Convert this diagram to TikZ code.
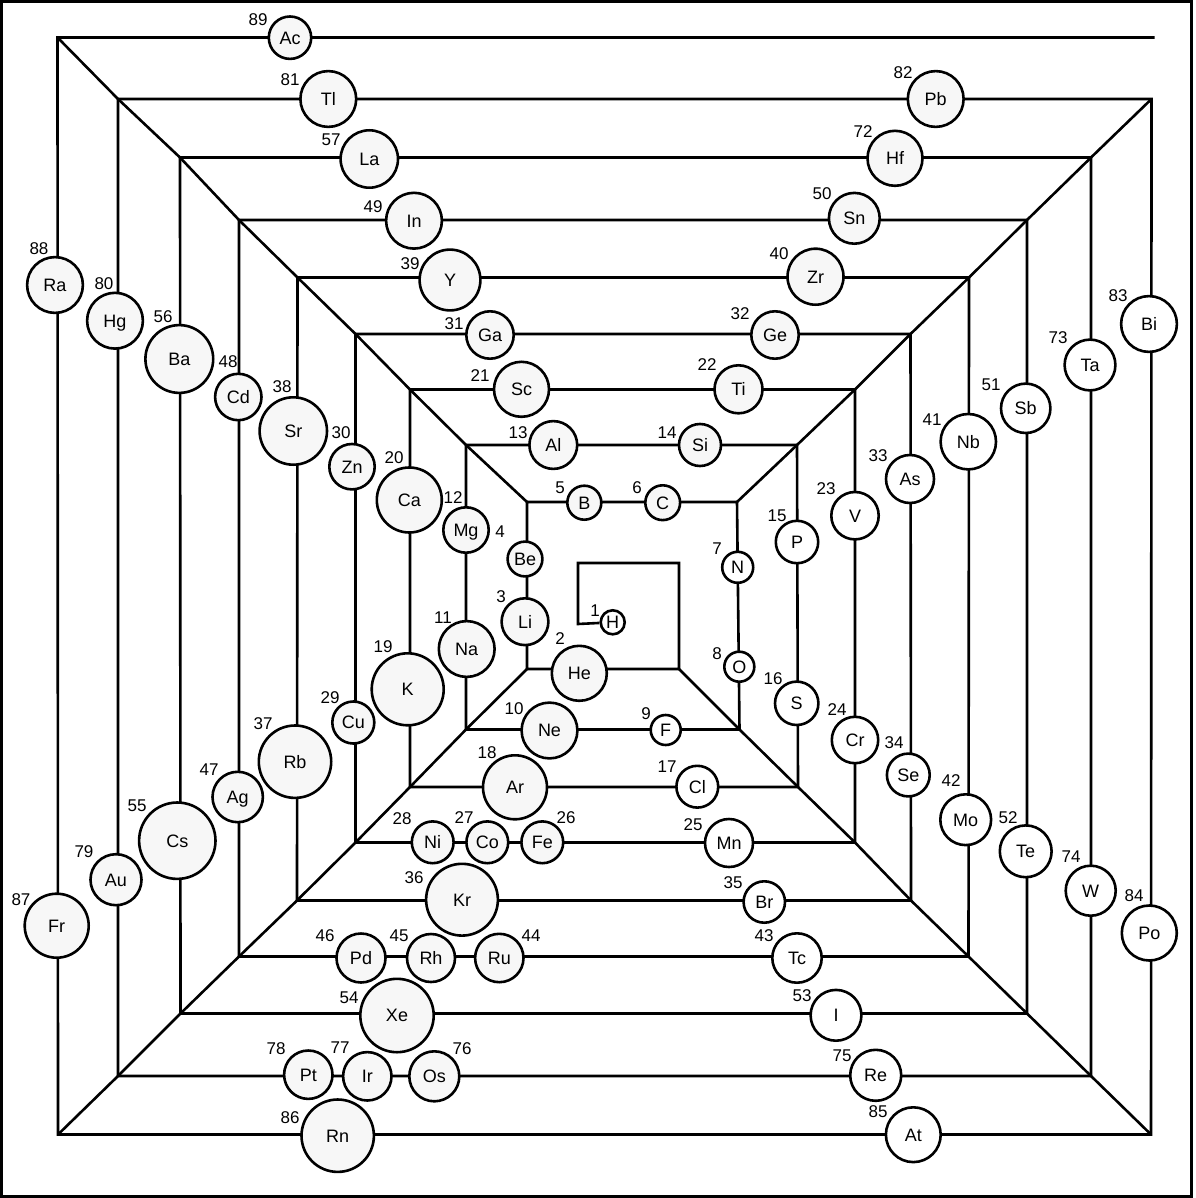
\documentclass[tikz,border=0pt]{standalone}
\usepackage{fontspec}
\setmainfont{Liberation Sans}
\usetikzlibrary{backgrounds}
\definecolor{elgray}{RGB}{247,247,247}
\begin{document}
\begin{tikzpicture}[x=1pt,y=-1pt,
  wire/.style={line width=2.6pt, line join=miter},
  el/.style={circle, draw, line width=2.6pt, fill=elgray, inner sep=0pt,
    text height=12.9pt, text depth=0pt, font=\fontsize{18}{18}\selectfont},
  elw/.style={el, fill=white},
  num/.style={inner sep=0pt, text height=12.2pt, text depth=0pt, font=\fontsize{17}{17}\selectfont}]
\useasboundingbox (0,0) rectangle (1195,1198);
\draw[line width=3pt] (1.5,1.5) rectangle (1191,1196.5);

% elements
\node[elw, minimum size=24]   (H)  at (612.7,622.3) {H};
\node[el,  minimum size=55]   (He) at (579.3,673.3) {He};
\node[el,  minimum size=46.8] (Li) at (525,621.7) {Li};
\node[el,  minimum size=34.8] (Be) at (525,559) {Be};
\node[el,  minimum size=34]   (B)  at (584.3,502.7) {B};
\node[el,  minimum size=34.8] (C)  at (662.7,502.7) {C};
\node[elw, minimum size=31]   (N)  at (737.7,567.3) {N};
\node[elw, minimum size=30]   (O)  at (739.3,666.7) {O};
\node[elw, minimum size=30]   (F)  at (665.7,730) {F};
\node[el,  minimum size=55.8] (Ne) at (549.5,730.5) {Ne};
\node[el,  minimum size=55.8] (Na) at (466.7,649) {Na};
\node[el,  minimum size=45.4] (Mg) at (466,530) {Mg};
\node[el,  minimum size=47.8] (Al) at (553.3,445) {Al};
\node[el,  minimum size=42]   (Si) at (700,445) {Si};
\node[elw, minimum size=42.4] (P)  at (797,542) {P};
\node[elw, minimum size=43.4] (S)  at (796.7,703.3) {S};
\node[elw, minimum size=41.8] (Cl) at (697.3,786.7) {Cl};
\node[el,  minimum size=64]   (Ar) at (515,787.3) {Ar};
\node[el,  minimum size=72]   (K)  at (407.7,689.3) {K};
\node[el,  minimum size=65]   (Ca) at (409.3,500) {Ca};
\node[el,  minimum size=55]   (Sc) at (521.5,389.3) {Sc};
\node[el,  minimum size=48]   (Ti) at (738.5,389.3) {Ti};
\node[elw, minimum size=47.4] (V)  at (855,515.7) {V};
\node[elw, minimum size=46.4] (Cr) at (855,740) {Cr};
\node[elw, minimum size=48]   (Mn) at (729,843) {Mn};
\node[el,  minimum size=41.8] (Fe) at (542.3,842.3) {Fe};
\node[el,  minimum size=41.8] (Co) at (487.3,842.3) {Co};
\node[el,  minimum size=41.8] (Ni) at (432.7,842.3) {Ni};
\node[el,  minimum size=42]   (Cu) at (353.3,722.5) {Cu};
\node[el,  minimum size=45.4] (Zn) at (352,466.7) {Zn};
\node[el,  minimum size=47.4] (Ga) at (490,335) {Ga};
\node[el,  minimum size=47.4] (Ge) at (775,335) {Ge};
\node[elw, minimum size=48]   (As) at (910,479) {As};
\node[elw, minimum size=42.8] (Se) at (908.3,775) {Se};
\node[elw, minimum size=41.4] (Br) at (764.3,902) {Br};
\node[el,  minimum size=71.8] (Kr) at (462,899.7) {Kr};
\node[el,  minimum size=72.4] (Rb) at (295,761.7) {Rb};
\node[el,  minimum size=67.4] (Sr) at (293.3,431) {Sr};
\node[el,  minimum size=60.8] (Y)  at (450,280) {Y};
\node[el,  minimum size=56]   (Zr) at (815.5,276.7) {Zr};
\node[elw, minimum size=55.4] (Nb) at (968.3,441.7) {Nb};
\node[elw, minimum size=50.8] (Mo) at (965.7,819.7) {Mo};
\node[elw, minimum size=49.4] (Tc) at (797,958) {Tc};
\node[el,  minimum size=48.4] (Ru) at (499.3,958) {Ru};
\node[el,  minimum size=48]   (Rh) at (431,958) {Rh};
\node[el,  minimum size=49]   (Pd) at (361,958) {Pd};
\node[el,  minimum size=50.4] (Ag) at (237.7,797) {Ag};
\node[el,  minimum size=46.4] (Cd) at (238.3,397) {Cd};
\node[el,  minimum size=55.8] (In) at (414,220.7) {In};
\node[el,  minimum size=50.8] (Sn) at (854.3,218.3) {Sn};
\node[elw, minimum size=49.4] (Sb) at (1025.7,408.3) {Sb};
\node[elw, minimum size=51.8] (Te) at (1025.7,851.3) {Te};
\node[elw, minimum size=50.8] (I)  at (836,1015.3) {I};
\node[el,  minimum size=73.4] (Xe) at (397,1015.5) {Xe};
\node[el,  minimum size=76.4] (Cs) at (177.3,840.7) {Cs};
\node[el,  minimum size=67.8] (Ba) at (179.3,359) {Ba};
\node[el,  minimum size=57.4] (La) at (369.3,159) {La};
\node[el,  minimum size=55]   (Hf) at (895,158.3) {Hf};
\node[elw, minimum size=50.8] (Ta) at (1090,365) {Ta};
\node[elw, minimum size=50]   (W)  at (1090.7,890.7) {W};
\node[elw, minimum size=51]   (Re) at (875.7,1075.3) {Re};
\node[el,  minimum size=50]   (Os) at (434.3,1076.3) {Os};
\node[el,  minimum size=48.4] (Ir) at (367.3,1076.3) {Ir};
\node[el,  minimum size=48.4] (Pt) at (308.3,1074.7) {Pt};
\node[el,  minimum size=51]   (Au) at (116,879.7) {Au};
\node[el,  minimum size=55.8] (Hg) at (115,320.7) {Hg};
\node[el,  minimum size=55.8] (Tl) at (328.3,99) {Tl};
\node[el,  minimum size=55.8] (Pb) at (935.7,99) {Pb};
\node[elw, minimum size=55.8] (Bi) at (1149,324) {Bi};
\node[elw, minimum size=55]   (Po) at (1149.3,933) {Po};
\node[elw, minimum size=54.8] (At) at (913.3,1134.7) {At};
\node[el,  minimum size=72.4] (Rn) at (337.7,1135.7) {Rn};
\node[el,  minimum size=64]   (Fr) at (56.7,925.7) {Fr};
\node[el,  minimum size=55.8] (Ra) at (55,285) {Ra};
\node[el,  minimum size=42.4] (Ac) at (290,37.7) {Ac};

% atomic numbers
\node[num] (n1) at (595,610) {1};
\node[num] (n2) at (560,638) {2};
\node[num] (n3) at (501,596) {3};
\node[num] (n4) at (500,531) {4};
\node[num] (n5) at (560,487) {5};
\node[num] (n6) at (637,487) {6};
\node[num] (n7) at (717,548) {7};
\node[num] (n8) at (717,653) {8};
\node[num] (n9) at (646,713) {9};
\node[num] (n10) at (514,708) {10};
\node[num] (n11) at (443,617) {11};
\node[num] (n12) at (453,497) {12};
\node[num] (n13) at (518,432) {13};
\node[num] (n14) at (667,432) {14};
\node[num] (n15) at (777,515) {15};
\node[num] (n16) at (773,678) {16};
\node[num] (n17) at (667,766) {17};
\node[num] (n18) at (487,752) {18};
\node[num] (n19) at (383,646) {19};
\node[num] (n20) at (394,457) {20};
\node[num] (n21) at (480,375) {21};
\node[num] (n22) at (707,364) {22};
\node[num] (n23) at (826,488) {23};
\node[num] (n24) at (837,709) {24};
\node[num] (n25) at (693,824) {25};
\node[num] (n26) at (566,817) {26};
\node[num] (n27) at (464,817) {27};
\node[num] (n28) at (402,818) {28};
\node[num] (n29) at (330,697) {29};
\node[num] (n30) at (341,432) {30};
\node[num] (n31) at (454,323) {31};
\node[num] (n32) at (740,313) {32};
\node[num] (n33) at (878,455) {33};
\node[num] (n34) at (894,742) {34};
\node[num] (n35) at (733,882) {35};
\node[num] (n36) at (414,877) {36};
\node[num] (n37) at (263,723) {37};
\node[num] (n38) at (282,386) {38};
\node[num] (n39) at (410,263) {39};
\node[num] (n40) at (779,253) {40};
\node[num] (n41) at (932,419) {41};
\node[num] (n42) at (951,780) {42};
\node[num] (n43) at (764,935) {43};
\node[num] (n44) at (531,935) {44};
\node[num] (n45) at (399,935) {45};
\node[num] (n46) at (325,935) {46};
\node[num] (n47) at (209,769) {47};
\node[num] (n48) at (228,361) {48};
\node[num] (n49) at (373,206) {49};
\node[num] (n50) at (822,193) {50};
\node[num] (n51) at (991,384) {51};
\node[num] (n52) at (1008,817) {52};
\node[num] (n53) at (802,995) {53};
\node[num] (n54) at (349,997) {54};
\node[num] (n55) at (137,805) {55};
\node[num] (n56) at (163,316) {56};
\node[num] (n57) at (331,139) {57};
\node[num] (n72) at (863,131) {72};
\node[num] (n73) at (1058,337) {73};
\node[num] (n74) at (1071,856) {74};
\node[num] (n75) at (842,1055) {75};
\node[num] (n76) at (462,1048) {76};
\node[num] (n77) at (340,1047) {77};
\node[num] (n78) at (276,1048) {78};
\node[num] (n79) at (84,851) {79};
\node[num] (n80) at (104,283) {80};
\node[num] (n81) at (290,79) {81};
\node[num] (n82) at (903,72) {82};
\node[num] (n83) at (1118,295) {83};
\node[num] (n84) at (1134,895) {84};
\node[num] (n85) at (878,1111) {85};
\node[num] (n86) at (290,1117) {86};
\node[num] (n87) at (21,899) {87};
\node[num] (n88) at (39,248) {88};
\node[num] (n89) at (258,19) {89};

% corner coordinates of the spiral
\coordinate (S1) at (578,624);
\coordinate (S2) at (578,563);
\coordinate (S3) at (679,563);
\coordinate (TL1) at (527,502);   \coordinate (TR1) at (737,502);
\coordinate (TL2) at (466,445);   \coordinate (TR2) at (797,445);
\coordinate (TL3) at (410,389.5); \coordinate (TR3) at (855,389.5);
\coordinate (TL4) at (355.5,334); \coordinate (TR4) at (910.5,334);
\coordinate (TL5) at (297.5,277.5); \coordinate (TR5) at (969,277.5);
\coordinate (TL6) at (239,220);   \coordinate (TR6) at (1027,220);
\coordinate (TL7) at (180,157.5); \coordinate (TR7) at (1091,157.5);
\coordinate (TL8) at (118,99);    \coordinate (TR8) at (1151.5,99);
\coordinate (TL9) at (57.5,37.5);  \coordinate (END) at (1154.5,37.5);
\coordinate (BR0) at (679,669);   \coordinate (BL0) at (527,669);
\coordinate (BR1) at (739.5,729.5); \coordinate (BL1) at (466,729.5);
\coordinate (BR2) at (798,787);   \coordinate (BL2) at (410,787);
\coordinate (BR3) at (855,842.5); \coordinate (BL3) at (355.5,842.5);
\coordinate (BR4) at (911,900.5); \coordinate (BL4) at (297,900.5);
\coordinate (BR5) at (968.5,956.5); \coordinate (BL5) at (239,956.5);
\coordinate (BR6) at (1027,1013.5); \coordinate (BL6) at (180.5,1013.5);
\coordinate (BR7) at (1091,1076); \coordinate (BL7) at (118,1076);
\coordinate (BR8) at (1151,1134.5); \coordinate (BL8) at (58,1134.5);

\begin{scope}[on background layer]
\draw[wire] (H) -- (S1) -- (S2) -- (S3) -- (BR0) -- (BL0)
  -- (TL1) -- (TR1) -- (BR1) -- (BL1)
  -- (TL2) -- (TR2) -- (BR2) -- (BL2)
  -- (TL3) -- (TR3) -- (BR3) -- (BL3)
  -- (TL4) -- (TR4) -- (BR4) -- (BL4)
  -- (TL5) -- (TR5) -- (BR5) -- (BL5)
  -- (TL6) -- (TR6) -- (BR6) -- (BL6)
  -- (TL7) -- (TR7) -- (BR7) -- (BL7)
  -- (TL8) -- (TR8) -- (BR8) -- (BL8)
  -- (TL9) -- (END);
\draw[wire] (TL9) -- (TL8) -- (TL7) -- (TL6) -- (TL5) -- (TL4) -- (TL3) -- (TL2) -- (TL1);
\draw[wire] (TR8) -- (TR7) -- (TR6) -- (TR5) -- (TR4) -- (TR3) -- (TR2) -- (TR1);
\draw[wire] (BR8) -- (BR7) -- (BR6) -- (BR5) -- (BR4) -- (BR3) -- (BR2) -- (BR1) -- (BR0);
\draw[wire] (BL8) -- (BL7) -- (BL6) -- (BL5) -- (BL4) -- (BL3) -- (BL2) -- (BL1) -- (BL0);
\end{scope}
\end{tikzpicture}
\end{document}
